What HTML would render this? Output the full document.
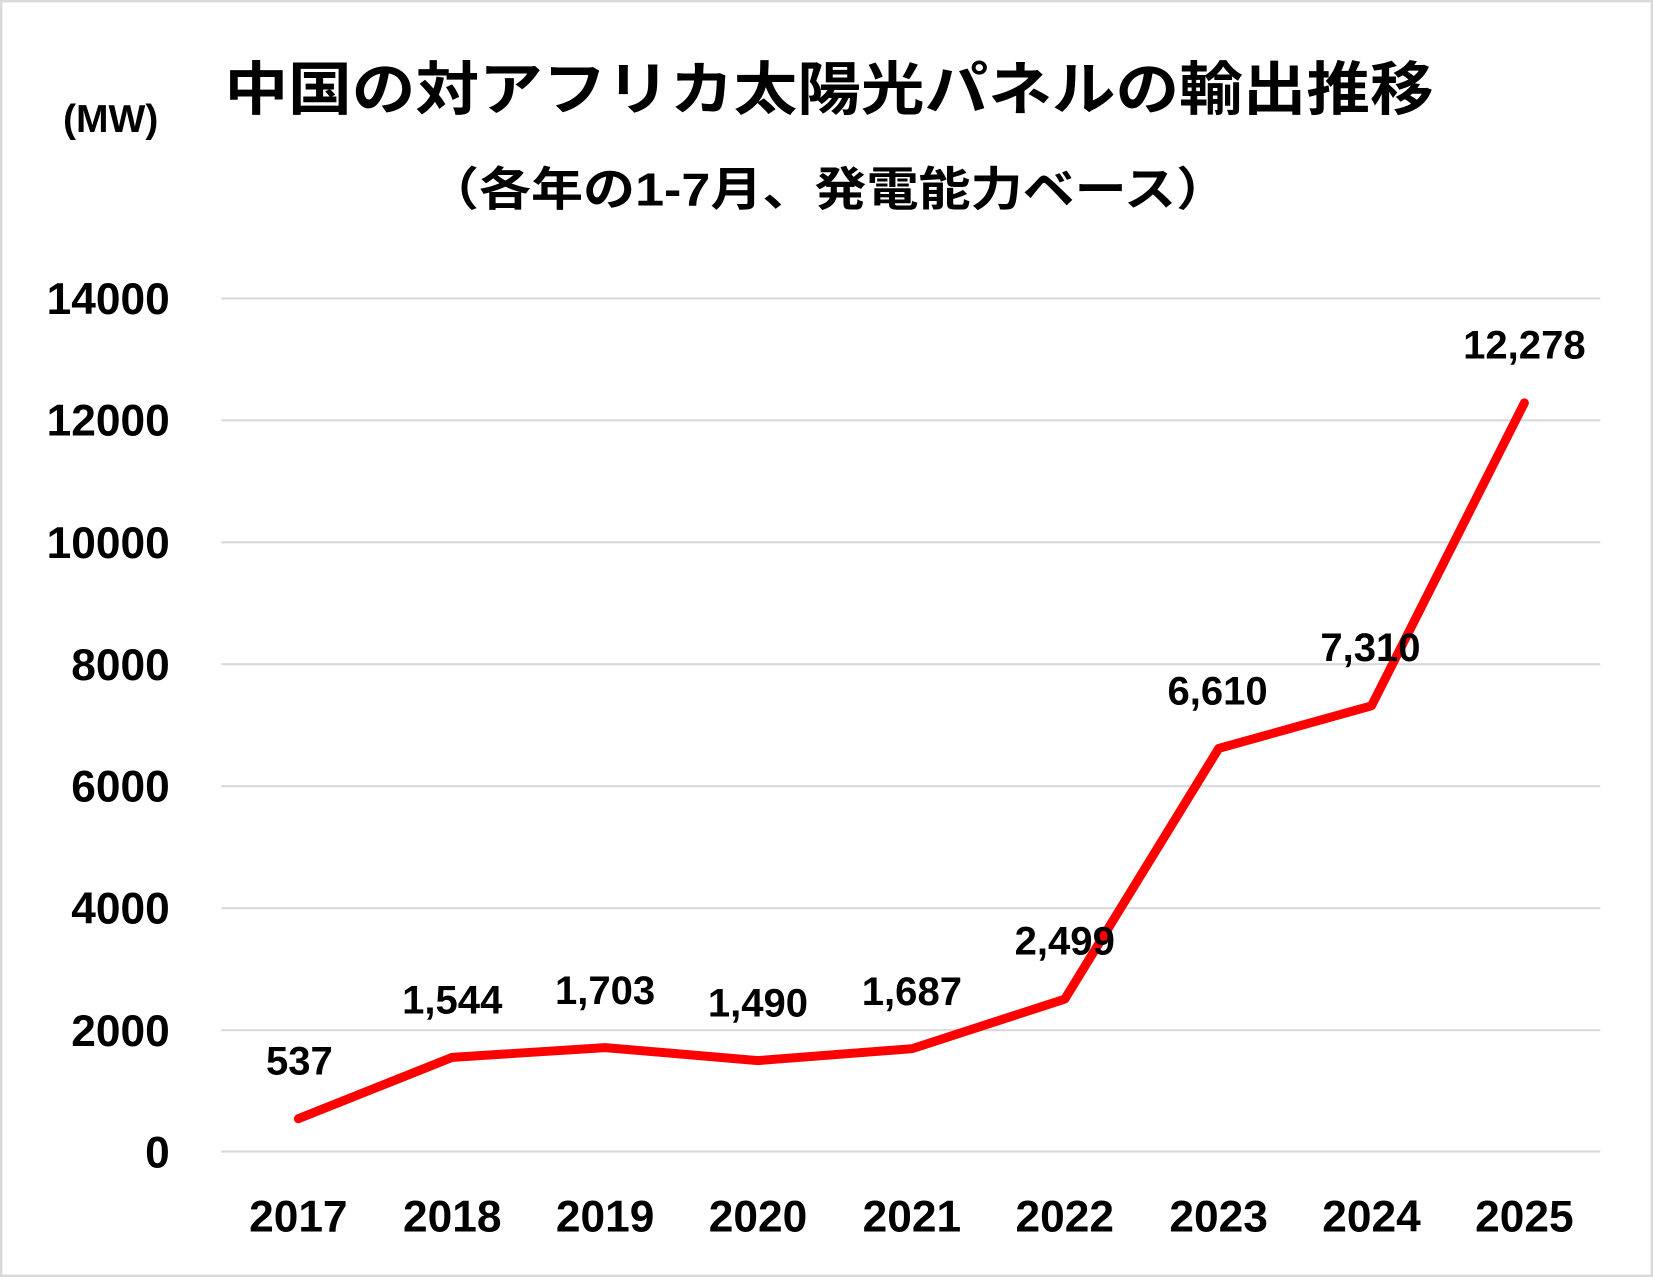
<!DOCTYPE html>
<html><head><meta charset="utf-8"><style>
html,body{margin:0;padding:0;background:#fff}
svg{display:block}
text{font-family:"Liberation Sans","Noto Sans CJK JP",sans-serif;font-weight:bold;fill:#000}
</style></head><body>
<svg width="1653" height="1277" viewBox="0 0 1568 1211" preserveAspectRatio="none" xmlns="http://www.w3.org/2000/svg">
<rect x="1" y="1" width="1566" height="1209" fill="#fff" stroke="#d9d9d9" stroke-width="2.5"/>
<g stroke="#d9d9d9" stroke-width="2">
<line x1="210" x2="1518" y1="283" y2="283"/>
<line x1="210" x2="1518" y1="398.6" y2="398.6"/>
<line x1="210" x2="1518" y1="514.3" y2="514.3"/>
<line x1="210" x2="1518" y1="629.9" y2="629.9"/>
<line x1="210" x2="1518" y1="745.6" y2="745.6"/>
<line x1="210" x2="1518" y1="861.3" y2="861.3"/>
<line x1="210" x2="1518" y1="976.9" y2="976.9"/>
<line x1="210" x2="1518" y1="1092" y2="1092"/>
</g>
<text x="213" y="104" font-size="55" textLength="1147" lengthAdjust="spacingAndGlyphs">中国の対アフリカ太陽光パネルの輸出推移</text>
<text x="405" y="195" font-size="44" textLength="760" lengthAdjust="spacingAndGlyphs">（各年の1-7月、発電能力ベース）</text>
<text x="105" y="125" font-size="37" text-anchor="middle">(MW)</text>
<g font-size="42" text-anchor="end">
<text x="161" y="298">14000</text>
<text x="161" y="413">12000</text>
<text x="161" y="529">10000</text>
<text x="161" y="645">8000</text>
<text x="161" y="760">6000</text>
<text x="161" y="876">4000</text>
<text x="161" y="992">2000</text>
<text x="161" y="1107">0</text>
</g>
<g font-size="42" text-anchor="middle">
<text x="283" y="1168">2017</text>
<text x="429" y="1168">2018</text>
<text x="574" y="1168">2019</text>
<text x="719" y="1168">2020</text>
<text x="865" y="1168">2021</text>
<text x="1010" y="1168">2022</text>
<text x="1156" y="1168">2023</text>
<text x="1301" y="1168">2024</text>
<text x="1446" y="1168">2025</text>
</g>
<polyline fill="none" stroke="#ff0000" stroke-width="8.5" stroke-linejoin="round" stroke-linecap="round"
points="283,1060.9 429,1002.7 574,993.5 719,1005.8 865,994.5 1010,947.5 1156,709.8 1301,669.3 1446,382.1"/>
<g font-size="38" text-anchor="middle">
<text x="284" y="1019">537</text>
<text x="429" y="961">1,544</text>
<text x="574" y="952">1,703</text>
<text x="719" y="964">1,490</text>
<text x="865" y="953">1,687</text>
<text x="1010" y="905">2,499</text>
<text x="1155" y="668">6,610</text>
<text x="1300" y="627">7,310</text>
<text x="1446" y="340">12,278</text>
</g>
</svg>
</body></html>
